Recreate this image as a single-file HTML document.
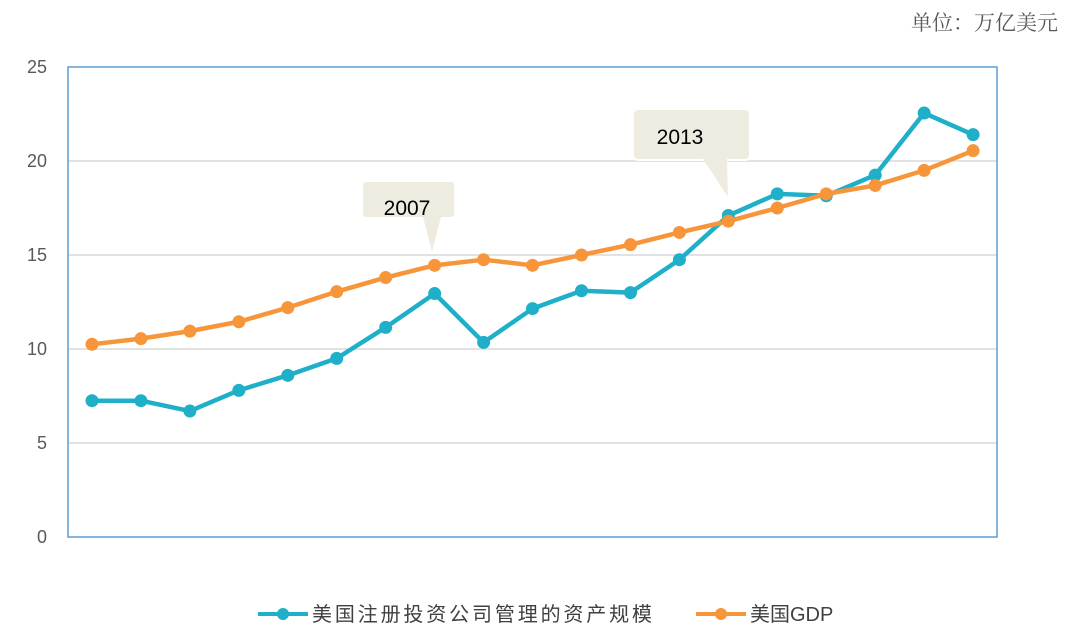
<!DOCTYPE html>
<html><head><meta charset="utf-8"><style>
body{margin:0;background:#fff;}
svg{display:block;font-family:"Liberation Sans","Noto Sans CJK SC",sans-serif;}
</style></head><body>
<svg id="c" width="1080" height="644">
<text x="1058" y="30" text-anchor="end" font-size="21" fill="#595959" font-family="'Noto Serif CJK SC',serif">单位：万亿美元</text>
<g id="grid"></g>
<rect x="68" y="67" width="929" height="470" fill="none" stroke="#5b9bd5" stroke-width="1.5"/>
<g id="series"></g>
<g>
<rect x="362" y="181" width="93" height="37" rx="4" fill="#eeece1" stroke="#fff" stroke-width="2"/>
<polygon points="423,217 441,217 432,252" fill="#eeece1"/>
<text x="407" y="215" text-anchor="middle" font-size="21" fill="#000">2007</text>
</g>
<g>
<rect x="633" y="109" width="117" height="51" rx="5" fill="#eeece1" stroke="#fff" stroke-width="2"/>
<polygon points="703,159 727,159 728,197" fill="#eeece1"/>
<text x="680" y="144" text-anchor="middle" font-size="21" fill="#000">2013</text>
</g>
<g>
<g>
<line x1="258" y1="614" x2="308" y2="614" stroke="#1fafc8" stroke-width="4"/>
<circle cx="283" cy="614" r="6" fill="#1fafc8"/>
<text x="312" y="621" font-size="20" textLength="340" fill="#404040">美国注册投资公司管理的资产规模</text>
</g>
<g>
<line x1="696" y1="614" x2="746" y2="614" stroke="#f7953a" stroke-width="4"/>
<circle cx="721" cy="614" r="6" fill="#f7953a"/>
<text x="750" y="621" font-size="20" fill="#404040">美国GDP</text>
</g>
</g>
</svg>
<script>
const categories=[1999,2000,2001,2002,2003,2004,2005,2006,2007,2008,2009,2010,2011,2012,2013,2014,2015,2016,2017];
const aumValues=[7.25,7.25,6.7,7.8,8.6,9.5,11.15,12.95,10.35,12.15,13.1,13.0,14.75,17.1,18.25,18.15,19.25,22.55,21.4];
const gdpValues=[10.25,10.55,10.95,11.45,12.2,13.05,13.8,14.45,14.75,14.45,15.0,15.55,16.2,16.8,17.5,18.25,18.7,19.5,20.55];
const yTicks=[0,5,10,15,20,25];
const NS="http://www.w3.org/2000/svg";
const x0=92,dx=48.95,yBase=537,yTop=67,yMax=25;
const xs=i=>x0+i*dx;
const ys=v=>yBase-(v/yMax)*(yBase-yTop);
const grid=document.getElementById('grid');
yTicks.forEach(t=>{
 if(t>0&&t<25){const l=document.createElementNS(NS,'line');
 l.setAttribute('x1',68);l.setAttribute('x2',997);l.setAttribute('y1',ys(t));l.setAttribute('y2',ys(t));
 l.setAttribute('stroke','#d9d9d9');l.setAttribute('stroke-width','1.5');
 
 
 grid.appendChild(l);}
 const tx=document.createElementNS(NS,'text');
 tx.setAttribute('x',47);tx.setAttribute('y',ys(t)+6);tx.setAttribute('text-anchor','end');
 tx.setAttribute('font-size','18');tx.setAttribute('fill','#595959');tx.textContent=t;
 
 
 grid.appendChild(tx);
});
const sg=document.getElementById('series');
function draw(vals,color,name){
 const g=document.createElementNS(NS,'g');
 
 
 const p=document.createElementNS(NS,'polyline');
 p.setAttribute('points',vals.map((v,i)=>xs(i)+','+ys(v)).join(' '));
 p.setAttribute('fill','none');p.setAttribute('stroke',color);p.setAttribute('stroke-width','4.5');p.setAttribute('stroke-linejoin','round');
 
 
 g.appendChild(p);
 vals.forEach((v,i)=>{const c=document.createElementNS(NS,'circle');
 c.setAttribute('cx',xs(i));c.setAttribute('cy',ys(v));c.setAttribute('r',6.5);c.setAttribute('fill',color);
 
 
 g.appendChild(c);});
 sg.appendChild(g);
}
draw(aumValues,'#1fafc8','aum-series');
draw(gdpValues,'#f7953a','gdp-series');
</script>
</body></html>
